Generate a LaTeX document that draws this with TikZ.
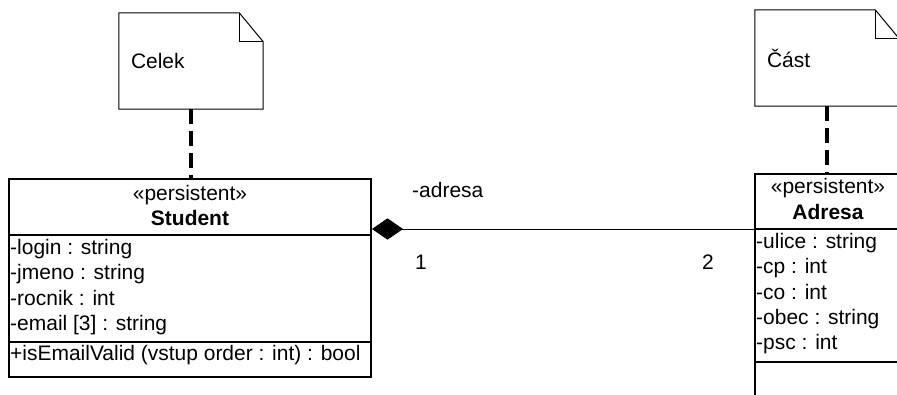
\documentclass[tikz,border=0pt]{standalone}
\usepackage{fontspec}
\setmainfont{Liberation Sans}
\usetikzlibrary{arrows.meta}

\newcommand{\umlfont}{\fontsize{17.9}{21.8}\selectfont}

\tikzset{
	classbox/.style={draw, line width=0.06cm, inner sep=0},
	classline/.style={line width=0.06cm},
	note/.style={minimum height=2.88cm, text width=3.6cm, inner sep=0.36cm, align=left},
	noteline/.style={line width=0.03cm},
	notelink/.style={line width=0.12cm, dash pattern=on 0.45cm off 0.21cm},
	member/.style={anchor=west, inner sep=0, text height=0.75em, text depth=0.25em},
	stereo/.style={member, anchor=center},
	composition/.style={arrows={Diamond[length=0.93cm,width=0.64cm]-}, line width=0.03cm}
}

\begin{document}
\begin{tikzpicture}[font=\umlfont]
		\useasboundingbox (0,0) rectangle (26.91,11.82);

		% poznamky
		\node[note] (celek) at (5.73,9.99) {Celek};
		\draw[noteline] (celek.south west) -- (celek.north west)
			-- ([xshift=-0.72cm]celek.north east) -- ([yshift=-0.87cm]celek.north east)
			-- (celek.south east) -- cycle;
		\draw[noteline] ([xshift=-0.72cm]celek.north east) |- ([yshift=-0.87cm]celek.north east);

		\node[note] (cast) at (24.81,10.08) {Část};
		\draw[noteline] (cast.south west) -- (cast.north west)
			-- ([xshift=-0.72cm]cast.north east) -- ([yshift=-0.87cm]cast.north east)
			-- (cast.south east) -- cycle;
		\draw[noteline] ([xshift=-0.72cm]cast.north east) |- ([yshift=-0.87cm]cast.north east);

		% trida Student
		\node[classbox, minimum width=10.86cm, minimum height=5.94cm] (student) at (5.70,3.48) {};
		\draw[classline] ([yshift=-1.71cm]student.north west) -- ([yshift=-1.71cm]student.north east);
		\draw[classline] ([yshift=-4.92cm]student.north west) -- ([yshift=-4.92cm]student.north east);

		\node[stereo] (s-stereo) at (5.70,5.89) {«persistent»};
		\node[stereo, font=\umlfont\bfseries] (s-name) at (5.70,5.15) {Student};
		\node[member] (s-login) at (0.30,4.27) {-login : string};
		\node[member] (s-jmeno) at (0.30,3.51) {-jmeno : string};
		\node[member] (s-rocnik) at (0.30,2.75) {-rocnik : int};
		\node[member] (s-email) at (0.30,1.99) {-email [3] : string};
		\node[member] (s-valid) at (0.30,1.09) {+isEmailValid (vstup order : int) : bool};

		% trida Adresa
		\node[classbox, minimum width=4.38cm, minimum height=7.20cm] (adresa) at (24.84,3.00) {};
		\draw[classline] ([yshift=-1.68cm]adresa.north west) -- ([yshift=-1.68cm]adresa.north east);
		\draw[classline] ([yshift=-5.67cm]adresa.north west) -- ([yshift=-5.67cm]adresa.north east);

		\node[stereo] (a-stereo) at (24.84,6.10) {«persistent»};
		\node[stereo, font=\umlfont\bfseries] (a-name) at (24.84,5.33) {Adresa};
		\node[member] (a-ulice) at (22.68,4.45) {-ulice : string};
		\node[member] (a-cp) at (22.68,3.69) {-cp : int};
		\node[member] (a-co) at (22.68,2.935) {-co : int};
		\node[member] (a-obec) at (22.68,2.18) {-obec : string};
		\node[member] (a-psc) at (22.68,1.42) {-psc : int};

		% vazby
		\draw[notelink] (celek.south) -- (celek.south |- student.north);
		\draw[notelink] (cast.south) -- (cast.south |- adresa.north);

		\coordinate (link) at ([yshift=1.47cm]student.east);
		\draw[composition] (link) -- (link -| adresa.west);

		\node[member] (role) at (12.36,5.97) {-adresa};
		\node[member] (mult-s) at (12.45,3.82) {1};
		\node[stereo] (mult-a) at (21.24,3.82) {2};
	\end{tikzpicture}
\end{document}
